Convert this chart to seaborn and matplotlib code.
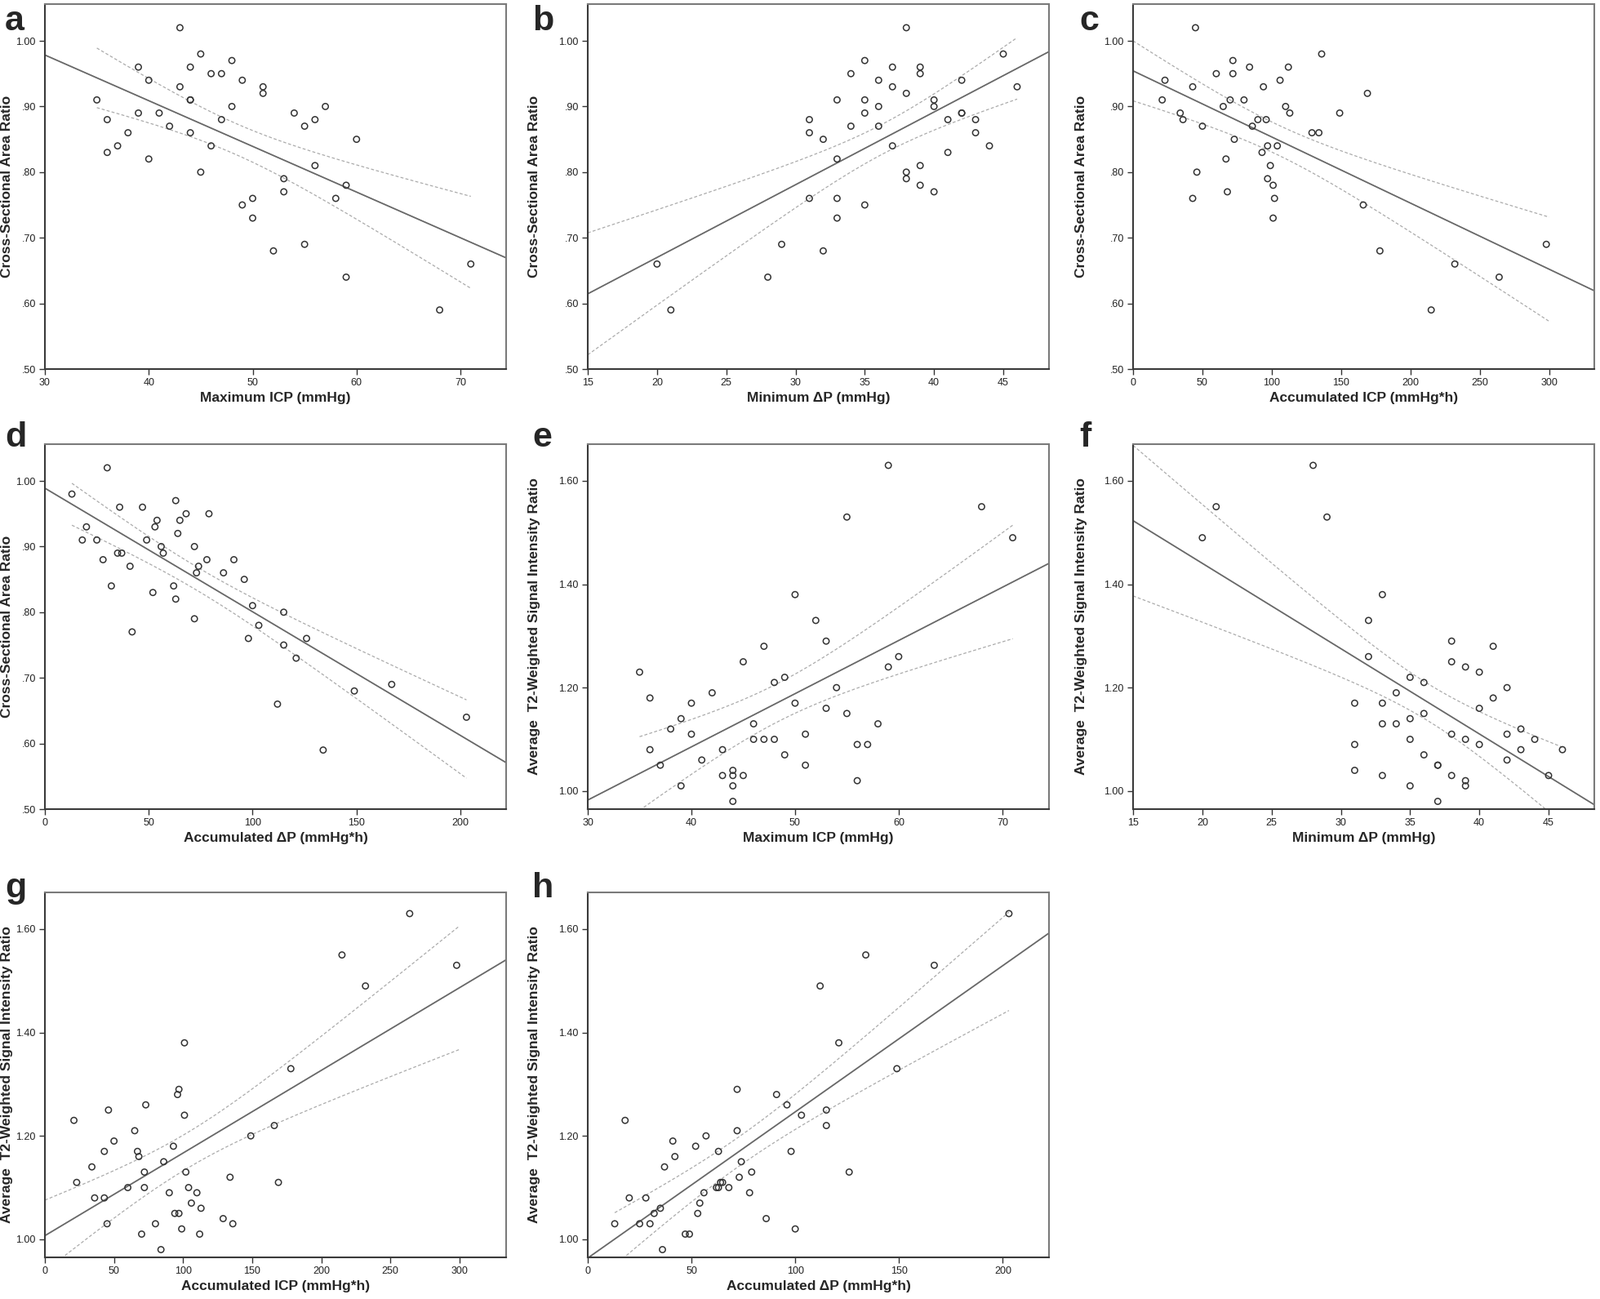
import matplotlib
matplotlib.use("Agg")
import matplotlib.pyplot as plt
import numpy as np
import seaborn as sns
from matplotlib import font_manager
from matplotlib.ticker import FixedLocator, FuncFormatter

# a: Maximum ICP vs CSA ratio
a_x = [35, 36, 36, 37, 38, 39, 39, 40, 40, 41, 42, 43, 43, 44, 44, 44, 44, 45, 45, 46, 46, 47, 47,
       48, 48, 49, 49, 50, 50, 51, 51, 52, 53, 53, 54, 55, 55, 56, 56, 57, 58, 59, 59, 60, 68, 71]
a_y = [.91, .88, .83, .84, .86, .96, .89, .94, .82, .89, .87, 1.02, .93, .96, .91, .91, .86, .98, .80,
       .95, .84, .95, .88, .97, .90, .94, .75, .76, .73, .93, .92, .68, .79, .77, .89, .87, .69, .88,
       .81, .90, .76, .78, .64, .85, .59, .66]
# b: Minimum dP vs CSA ratio
b_x = [20, 21, 28, 29, 31, 31, 31, 32, 32, 33, 33, 33, 33, 34, 34, 35, 35, 35, 35, 36, 36, 36, 37,
       37, 37, 38, 38, 38, 38, 39, 39, 39, 39, 40, 40, 40, 41, 41, 42, 42, 42, 43, 43, 44, 45, 46]
b_y = [.66, .59, .64, .69, .88, .86, .76, .85, .68, .91, .82, .76, .73, .95, .87, .97, .91, .89, .75,
       .94, .90, .87, .96, .93, .84, 1.02, .92, .80, .79, .96, .95, .81, .78, .91, .90, .77, .88, .83,
       .94, .89, .89, .88, .86, .84, .98, .93]
# c: Accumulated ICP vs CSA ratio
c_x = [21, 23, 34, 36, 43, 43, 45, 46, 50, 60, 65, 67, 68, 70, 72, 72, 73, 80, 84, 86, 90, 93, 94,
       96, 97, 97, 99, 101, 101, 102, 104, 106, 110, 112, 113, 129, 134, 136, 149, 166, 169, 178,
       215, 232, 264, 298]
c_y = [.91, .94, .89, .88, .93, .76, 1.02, .80, .87, .95, .90, .82, .77, .91, .97, .95, .85, .91, .96,
       .87, .88, .83, .93, .88, .84, .79, .81, .78, .73, .76, .84, .94, .90, .96, .89, .86, .86, .98,
       .89, .75, .92, .68, .59, .66, .64, .69]
# d: Accumulated dP vs CSA ratio
d_x = [13, 18, 20, 25, 28, 30, 32, 35, 37, 36, 41, 42, 47, 49, 52, 53, 54, 56, 57, 62, 63, 63, 64,
       65, 68, 72, 72, 73, 74, 78, 79, 86, 91, 96, 98, 100, 103, 112, 115, 115, 121, 126, 134, 149,
       167, 203]
d_y = [.98, .91, .93, .91, .88, 1.02, .84, .89, .89, .96, .87, .77, .96, .91, .83, .93, .94, .90, .89,
       .84, .97, .82, .92, .94, .95, .90, .79, .86, .87, .88, .95, .86, .88, .85, .76, .81, .78, .66,
       .80, .75, .73, .76, .59, .68, .69, .64]
# e: Maximum ICP vs T2 ratio
e_x = [35, 36, 36, 37, 38, 39, 39, 40, 40, 41, 42, 43, 43, 44, 44, 44, 44, 45, 45, 46, 46, 47, 47,
       48, 48, 49, 49, 50, 50, 51, 51, 52, 53, 53, 54, 55, 55, 56, 56, 57, 58, 59, 59, 60, 68, 71]
e_y = [1.23, 1.18, 1.08, 1.05, 1.12, 1.14, 1.01, 1.17, 1.11, 1.06, 1.19, 1.08, 1.03, 1.04, 1.03,
       1.01, 0.98, 1.25, 1.03, 1.13, 1.10, 1.28, 1.10, 1.21, 1.10, 1.22, 1.07, 1.38, 1.17, 1.11,
       1.05, 1.33, 1.29, 1.16, 1.20, 1.53, 1.15, 1.09, 1.02, 1.09, 1.13, 1.63, 1.24, 1.26, 1.55, 1.49]
# f: Minimum dP vs T2 ratio
f_x = [20, 21, 28, 29, 31, 31, 31, 32, 32, 33, 33, 33, 33, 34, 34, 35, 35, 35, 35, 36, 36, 36, 37,
       37, 37, 38, 38, 38, 38, 39, 39, 39, 39, 40, 40, 40, 41, 41, 42, 42, 42, 43, 43, 44, 45, 46]
f_y = [1.49, 1.55, 1.63, 1.53, 1.17, 1.09, 1.04, 1.33, 1.26, 1.38, 1.17, 1.13, 1.03, 1.19, 1.13,
       1.22, 1.14, 1.10, 1.01, 1.21, 1.15, 1.07, 1.05, 1.05, 0.98, 1.29, 1.25, 1.11, 1.03, 1.24,
       1.10, 1.02, 1.01, 1.23, 1.16, 1.09, 1.28, 1.18, 1.20, 1.11, 1.06, 1.12, 1.08, 1.10, 1.03, 1.08]
# g: Accumulated ICP vs T2 ratio
g_x = [21, 23, 34, 36, 43, 43, 45, 46, 50, 60, 65, 67, 68, 70, 72, 72, 73, 80, 84, 86, 90, 93, 94,
       96, 97, 97, 99, 101, 101, 102, 104, 106, 110, 112, 113, 129, 134, 136, 149, 166, 169, 178,
       215, 232, 264, 298]
g_y = [1.23, 1.11, 1.14, 1.08, 1.17, 1.08, 1.03, 1.25, 1.19, 1.10, 1.21, 1.17, 1.16, 1.01, 1.13,
       1.10, 1.26, 1.03, 0.98, 1.15, 1.09, 1.18, 1.05, 1.28, 1.29, 1.05, 1.02, 1.38, 1.24, 1.13,
       1.10, 1.07, 1.09, 1.01, 1.06, 1.04, 1.12, 1.03, 1.20, 1.22, 1.11, 1.33, 1.55, 1.49, 1.63, 1.53]
# h: Accumulated dP vs T2 ratio
h_x = [13, 18, 20, 25, 28, 30, 32, 35, 36, 37, 41, 42, 47, 49, 52, 53, 54, 56, 57, 62, 63, 63, 64,
       65, 68, 72, 72, 73, 74, 78, 79, 86, 91, 96, 98, 100, 103, 112, 115, 115, 121, 126, 134, 149,
       167, 203]
h_y = [1.03, 1.23, 1.08, 1.03, 1.08, 1.03, 1.05, 1.06, 0.98, 1.14, 1.19, 1.16, 1.01, 1.01, 1.18,
       1.05, 1.07, 1.09, 1.20, 1.10, 1.10, 1.17, 1.11, 1.11, 1.10, 1.29, 1.21, 1.12, 1.15, 1.09,
       1.13, 1.04, 1.28, 1.26, 1.17, 1.02, 1.24, 1.49, 1.25, 1.22, 1.38, 1.13, 1.55, 1.33, 1.53, 1.63]

CSA = "Cross-Sectional Area Ratio"
T2 = "Average  T2-Weighted Signal Intensity Ratio"
panels = [
    ("a", a_x, a_y, "Maximum ICP (mmHg)", CSA, [30, 40, 50, 60, 70], [.5, .6, .7, .8, .9, 1.0]),
    ("b", b_x, b_y, "Minimum \u0394P (mmHg)", CSA, [15, 20, 25, 30, 35, 40, 45], [.5, .6, .7, .8, .9, 1.0]),
    ("c", c_x, c_y, "Accumulated ICP (mmHg*h)", CSA, [0, 50, 100, 150, 200, 250, 300], [.5, .6, .7, .8, .9, 1.0]),
    ("d", d_x, d_y, "Accumulated \u0394P (mmHg*h)", CSA, [0, 50, 100, 150, 200], [.5, .6, .7, .8, .9, 1.0]),
    ("e", e_x, e_y, "Maximum ICP (mmHg)", T2, [30, 40, 50, 60, 70], [1.0, 1.2, 1.4, 1.6]),
    ("f", f_x, f_y, "Minimum \u0394P (mmHg)", T2, [15, 20, 25, 30, 35, 40, 45], [1.0, 1.2, 1.4, 1.6]),
    ("g", g_x, g_y, "Accumulated ICP (mmHg*h)", T2, [0, 50, 100, 150, 200, 250, 300], [1.0, 1.2, 1.4, 1.6]),
    ("h", h_x, h_y, "Accumulated \u0394P (mmHg*h)", T2, [0, 50, 100, 150, 200], [1.0, 1.2, 1.4, 1.6]),
]
xlims = [(30, 74.4), (15, 48.3), (0, 332.6), (0, 222.1), (30, 74.5), (15, 48.3), (0, 333.8), (0, 222.3)]
ylims = [(0.50, 1.056)] * 4 + [(0.965, 1.671)] * 4
# x span over which the CI curves are drawn (as in the original SPSS output)
ci_span = [(35, 71), (15, 46), (0, 300), (13, 203), (35, 71), (15, 46), (0, 300), (13, 203)]

W, H = 1960, 1591
col_left = [55, 720, 1388]
row_top = [5, 544, 1093]
AW, AH = 565, 447
letter_x = [6, 652, 1322]
letter_base = [37, 547, 1099]
T_CRIT = 2.015  # t(0.975, df=44)

sns.set_style("white")
names = {f.name for f in font_manager.fontManager.ttflist}
narrow = "Liberation Sans Narrow" if "Liberation Sans Narrow" in names else "Liberation Sans"
plt.rcParams["font.family"] = [narrow, "DejaVu Sans"]


def fmt_ratio(v, _):
    s = f"{v:.2f}"
    return s[1:] if s.startswith("0") else s


fig = plt.figure(figsize=(W / 100, H / 100), dpi=100)
for i, (letter, x, y, xlabel, ylabel, xt, yt) in enumerate(panels):
    r, c = divmod(i, 3)
    left, top = col_left[c], row_top[r]
    ax = fig.add_axes([left / W, 1 - (top + AH) / H, AW / W, AH / H])
    ax.set_xlim(*xlims[i])
    ax.set_ylim(*ylims[i])
    x = np.asarray(x, float)
    y = np.asarray(y, float)

    # fitted line across the whole axis
    sns.regplot(x=x, y=y, ax=ax, scatter=False, ci=None, truncate=False,
                line_kws=dict(color="#676767", lw=1.3))
    # 95% CI of the mean, dashed
    n = len(x)
    b1, b0 = np.polyfit(x, y, 1)
    resid = y - (b0 + b1 * x)
    s_err = np.sqrt(np.sum(resid ** 2) / (n - 2))
    xs = np.linspace(ci_span[i][0], ci_span[i][1], 200)
    half = T_CRIT * s_err * np.sqrt(1 / n + (xs - x.mean()) ** 2 / np.sum((x - x.mean()) ** 2))
    fit = b0 + b1 * xs
    for band in (fit - half, fit + half):
        ax.plot(xs, band, color="#ababab", lw=0.9, ls=(0, (3, 2)))

    sns.scatterplot(x=x, y=y, ax=ax, marker="o", s=28, facecolor="none",
                    edgecolor="#333333", linewidth=1.1, zorder=3)

    ax.set_xlim(*xlims[i])
    ax.set_ylim(*ylims[i])
    ax.xaxis.set_major_locator(FixedLocator(xt))
    ax.yaxis.set_major_locator(FixedLocator(yt))
    ax.yaxis.set_major_formatter(FuncFormatter(fmt_ratio))
    ax.tick_params(direction="out", length=5, width=1, color="#333333", labelsize=9,
                   labelcolor="#222222", pad=3, left=True, bottom=True)
    for side in ["left", "bottom"]:
        ax.spines[side].set_color("#3a3a3a")
        ax.spines[side].set_linewidth(1.5)
    for side in ["top", "right"]:
        ax.spines[side].set_color("#7a7a7a")
        ax.spines[side].set_linewidth(1.5)

    ax.set_xlabel(xlabel, fontsize=12.5, fontweight="bold")
    ax.set_ylabel(ylabel, fontsize=12.5, fontweight="bold")
    ax.xaxis.set_label_coords(0.5, -28 / AH)
    ax.yaxis.set_label_coords(-(left - (letter_x[c] + 10)) / AW, 0.5)

    fig.text((letter_x[c]) / W, 1 - letter_base[r] / H, letter, fontsize=31, fontweight="bold",
             family=["Liberation Sans", "DejaVu Sans"], va="baseline", ha="left")

fig.savefig("out.png", dpi=100)
